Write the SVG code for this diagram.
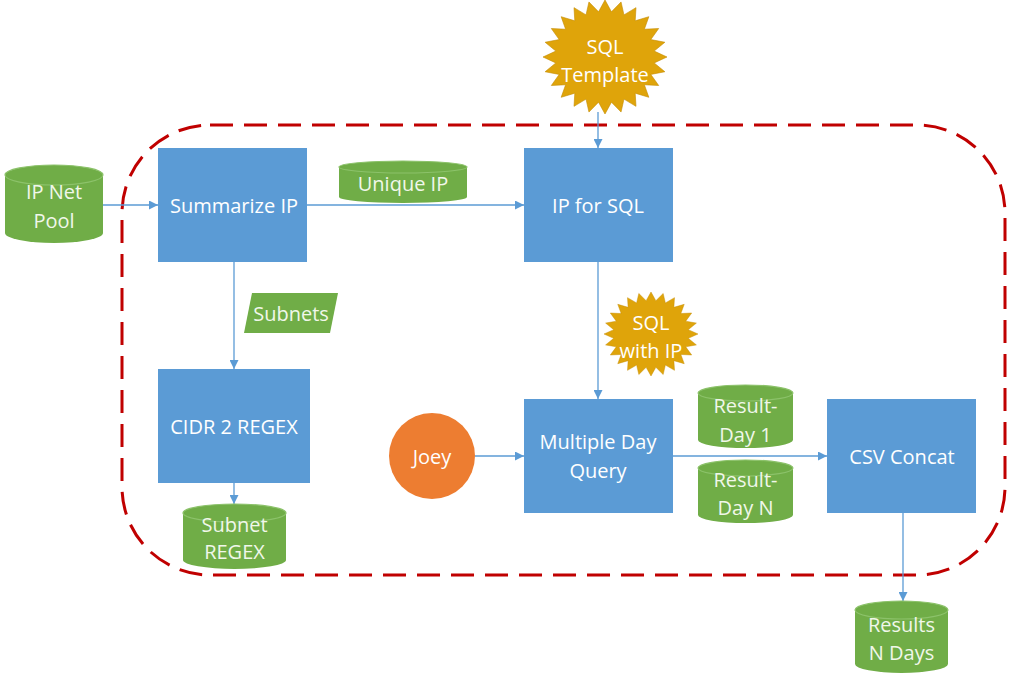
<svg xmlns="http://www.w3.org/2000/svg" xmlns:xlink="http://www.w3.org/1999/xlink" width="1015" height="682" viewBox="0 0 1015 682">
<style>
.box{fill:#5B9BD5;}
.cyl{fill:#70AD47;}
.cyltop{fill:none;stroke:#8CC26A;stroke-width:1.2;}
.star{fill:#DFA40A;stroke:#C48A00;stroke-width:1;}
.t{font-family:"Open Sans","Noto Sans",sans-serif;font-size:20px;fill:#FFFFFF;text-anchor:middle;dominant-baseline:central;}
.tg{fill:#F0F7EA;}
.conn{stroke:#5B9BD5;stroke-width:1.3;fill:none;}
.boundary{fill:none;stroke:#C00000;stroke-width:3;stroke-dasharray:23 11;}
</style>
<defs>
<marker id="arr" viewBox="0 0 10 10" refX="10" refY="5" markerWidth="9" markerHeight="9" markerUnits="userSpaceOnUse" orient="auto">
<path d="M0,0 L10,5 L0,10 z" fill="#5B9BD5"/>
</marker>
<polygon id="starshape" points="100,0 79.3,10.4 96.6,25.9 73.9,30.6 86.6,50 63.5,48.7 70.7,70.7 48.7,63.5 50,86.6 30.6,73.9 25.9,96.6 10.4,79.3 0,100 -10.4,79.3 -25.9,96.6 -30.6,73.9 -50,86.6 -48.7,63.5 -70.7,70.7 -63.5,48.7 -86.6,50 -73.9,30.6 -96.6,25.9 -79.3,10.4 -100,0 -79.3,-10.4 -96.6,-25.9 -73.9,-30.6 -86.6,-50 -63.5,-48.7 -70.7,-70.7 -48.7,-63.5 -50,-86.6 -30.6,-73.9 -25.9,-96.6 -10.4,-79.3 0,-100 10.4,-79.3 25.9,-96.6 30.6,-73.9 50,-86.6 48.7,-63.5 70.7,-70.7 63.5,-48.7 86.6,-50 73.9,-30.6 96.6,-25.9 79.3,-10.4"/>
</defs>
<rect width="1015" height="682" fill="#FFFFFF"/>

<rect id="boundary" class="boundary" x="122" y="125" width="883" height="450" rx="88" ry="88"/>

<g id="connectors">
<line class="conn" x1="103" y1="205" x2="158" y2="205" marker-end="url(#arr)"/>
<line class="conn" x1="307" y1="205" x2="524" y2="205" marker-end="url(#arr)"/>
<line class="conn" x1="234" y1="262" x2="234" y2="369" marker-end="url(#arr)"/>
<line class="conn" x1="234" y1="483" x2="234" y2="504" marker-end="url(#arr)"/>
<line class="conn" x1="598" y1="112" x2="598" y2="148" marker-end="url(#arr)"/>
<line class="conn" x1="598" y1="262" x2="598" y2="399" marker-end="url(#arr)"/>
<line class="conn" x1="475" y1="456" x2="524" y2="456" marker-end="url(#arr)"/>
<line class="conn" x1="673" y1="456" x2="827" y2="456" marker-end="url(#arr)"/>
<line class="conn" x1="903" y1="513" x2="903" y2="601" marker-end="url(#arr)"/>
</g>

<g id="ip-net-pool">
<path class="cyl" d="M5,175 A49,10 0 0 1 103,175 V233 A49,10 0 0 1 5,233 Z"/>
<ellipse class="cyltop" cx="54" cy="175" rx="49" ry="10"/>
<text class="t tg" x="54" y="191">IP Net</text>
<text class="t tg" x="54" y="220">Pool</text>
</g>

<g id="summarize-ip">
<rect class="box" x="158" y="148" width="149" height="114"/>
<text class="t" x="234" y="205">Summarize IP</text>
</g>

<g id="unique-ip">
<path class="cyl" d="M339,167 A64,6 0 0 1 467,167 V197 A64,6 0 0 1 339,197 Z"/>
<ellipse class="cyltop" cx="403" cy="167" rx="64" ry="6"/>
<text class="t tg" x="403" y="183">Unique IP</text>
</g>

<g id="ip-for-sql">
<rect class="box" x="524" y="148" width="149" height="114"/>
<text class="t" x="598" y="205">IP for SQL</text>
</g>

<g id="sql-template">
<use xlink:href="#starshape" class="star" transform="translate(605,57) scale(0.62,0.57)" vector-effect="non-scaling-stroke"/>
<text class="t" x="605" y="46">SQL</text>
<text class="t" x="605" y="74">Template</text>
</g>

<g id="subnets">
<polygon class="cyl" points="252,293 338,293 330,333 244,333"/>
<text class="t tg" x="291" y="313">Subnets</text>
</g>

<g id="cidr-2-regex">
<rect class="box" x="158" y="369" width="152" height="114"/>
<text class="t" x="234" y="426">CIDR 2 REGEX</text>
</g>

<g id="subnet-regex">
<path class="cyl" d="M183,513 A51.5,9 0 0 1 286,513 V560 A51.5,9 0 0 1 183,560 Z"/>
<ellipse class="cyltop" cx="234.5" cy="513" rx="51.5" ry="9"/>
<text class="t tg" x="234.5" y="524">Subnet</text>
<text class="t tg" x="234.5" y="551">REGEX</text>
</g>

<g id="sql-with-ip">
<use xlink:href="#starshape" class="star" transform="translate(651,334) scale(0.47,0.42)" vector-effect="non-scaling-stroke"/>
<text class="t" x="651" y="322">SQL</text>
<text class="t" x="651" y="350">with IP</text>
</g>

<g id="joey">
<circle cx="432" cy="456" r="43" fill="#ED7D31"/>
<text class="t" x="432" y="456">Joey</text>
</g>

<g id="multiple-day-query">
<rect class="box" x="524" y="399" width="149" height="114"/>
<text class="t" x="598" y="441">Multiple Day</text>
<text class="t" x="598" y="470">Query</text>
</g>

<g id="result-day-1">
<path class="cyl" d="M698,393 A47.5,8 0 0 1 793,393 V440 A47.5,8 0 0 1 698,440 Z"/>
<ellipse class="cyltop" cx="745.5" cy="393" rx="47.5" ry="8"/>
<text class="t tg" x="745.5" y="405">Result-</text>
<text class="t tg" x="745.5" y="434">Day 1</text>
</g>

<g id="result-day-n">
<path class="cyl" d="M698,468 A47.5,8 0 0 1 793,468 V515 A47.5,8 0 0 1 698,515 Z"/>
<ellipse class="cyltop" cx="745.5" cy="468" rx="47.5" ry="8"/>
<text class="t tg" x="745.5" y="479">Result-</text>
<text class="t tg" x="745.5" y="507">Day N</text>
</g>

<g id="csv-concat">
<rect class="box" x="827" y="399" width="149" height="114"/>
<text class="t" x="902" y="456">CSV Concat</text>
</g>

<g id="results-n-days">
<path class="cyl" d="M855,610 A46.5,9 0 0 1 948,610 V664 A46.5,9 0 0 1 855,664 Z"/>
<ellipse class="cyltop" cx="901.5" cy="610" rx="46.5" ry="9"/>
<text class="t tg" x="901.5" y="624">Results</text>
<text class="t tg" x="901.5" y="652">N Days</text>
</g>
</svg>
